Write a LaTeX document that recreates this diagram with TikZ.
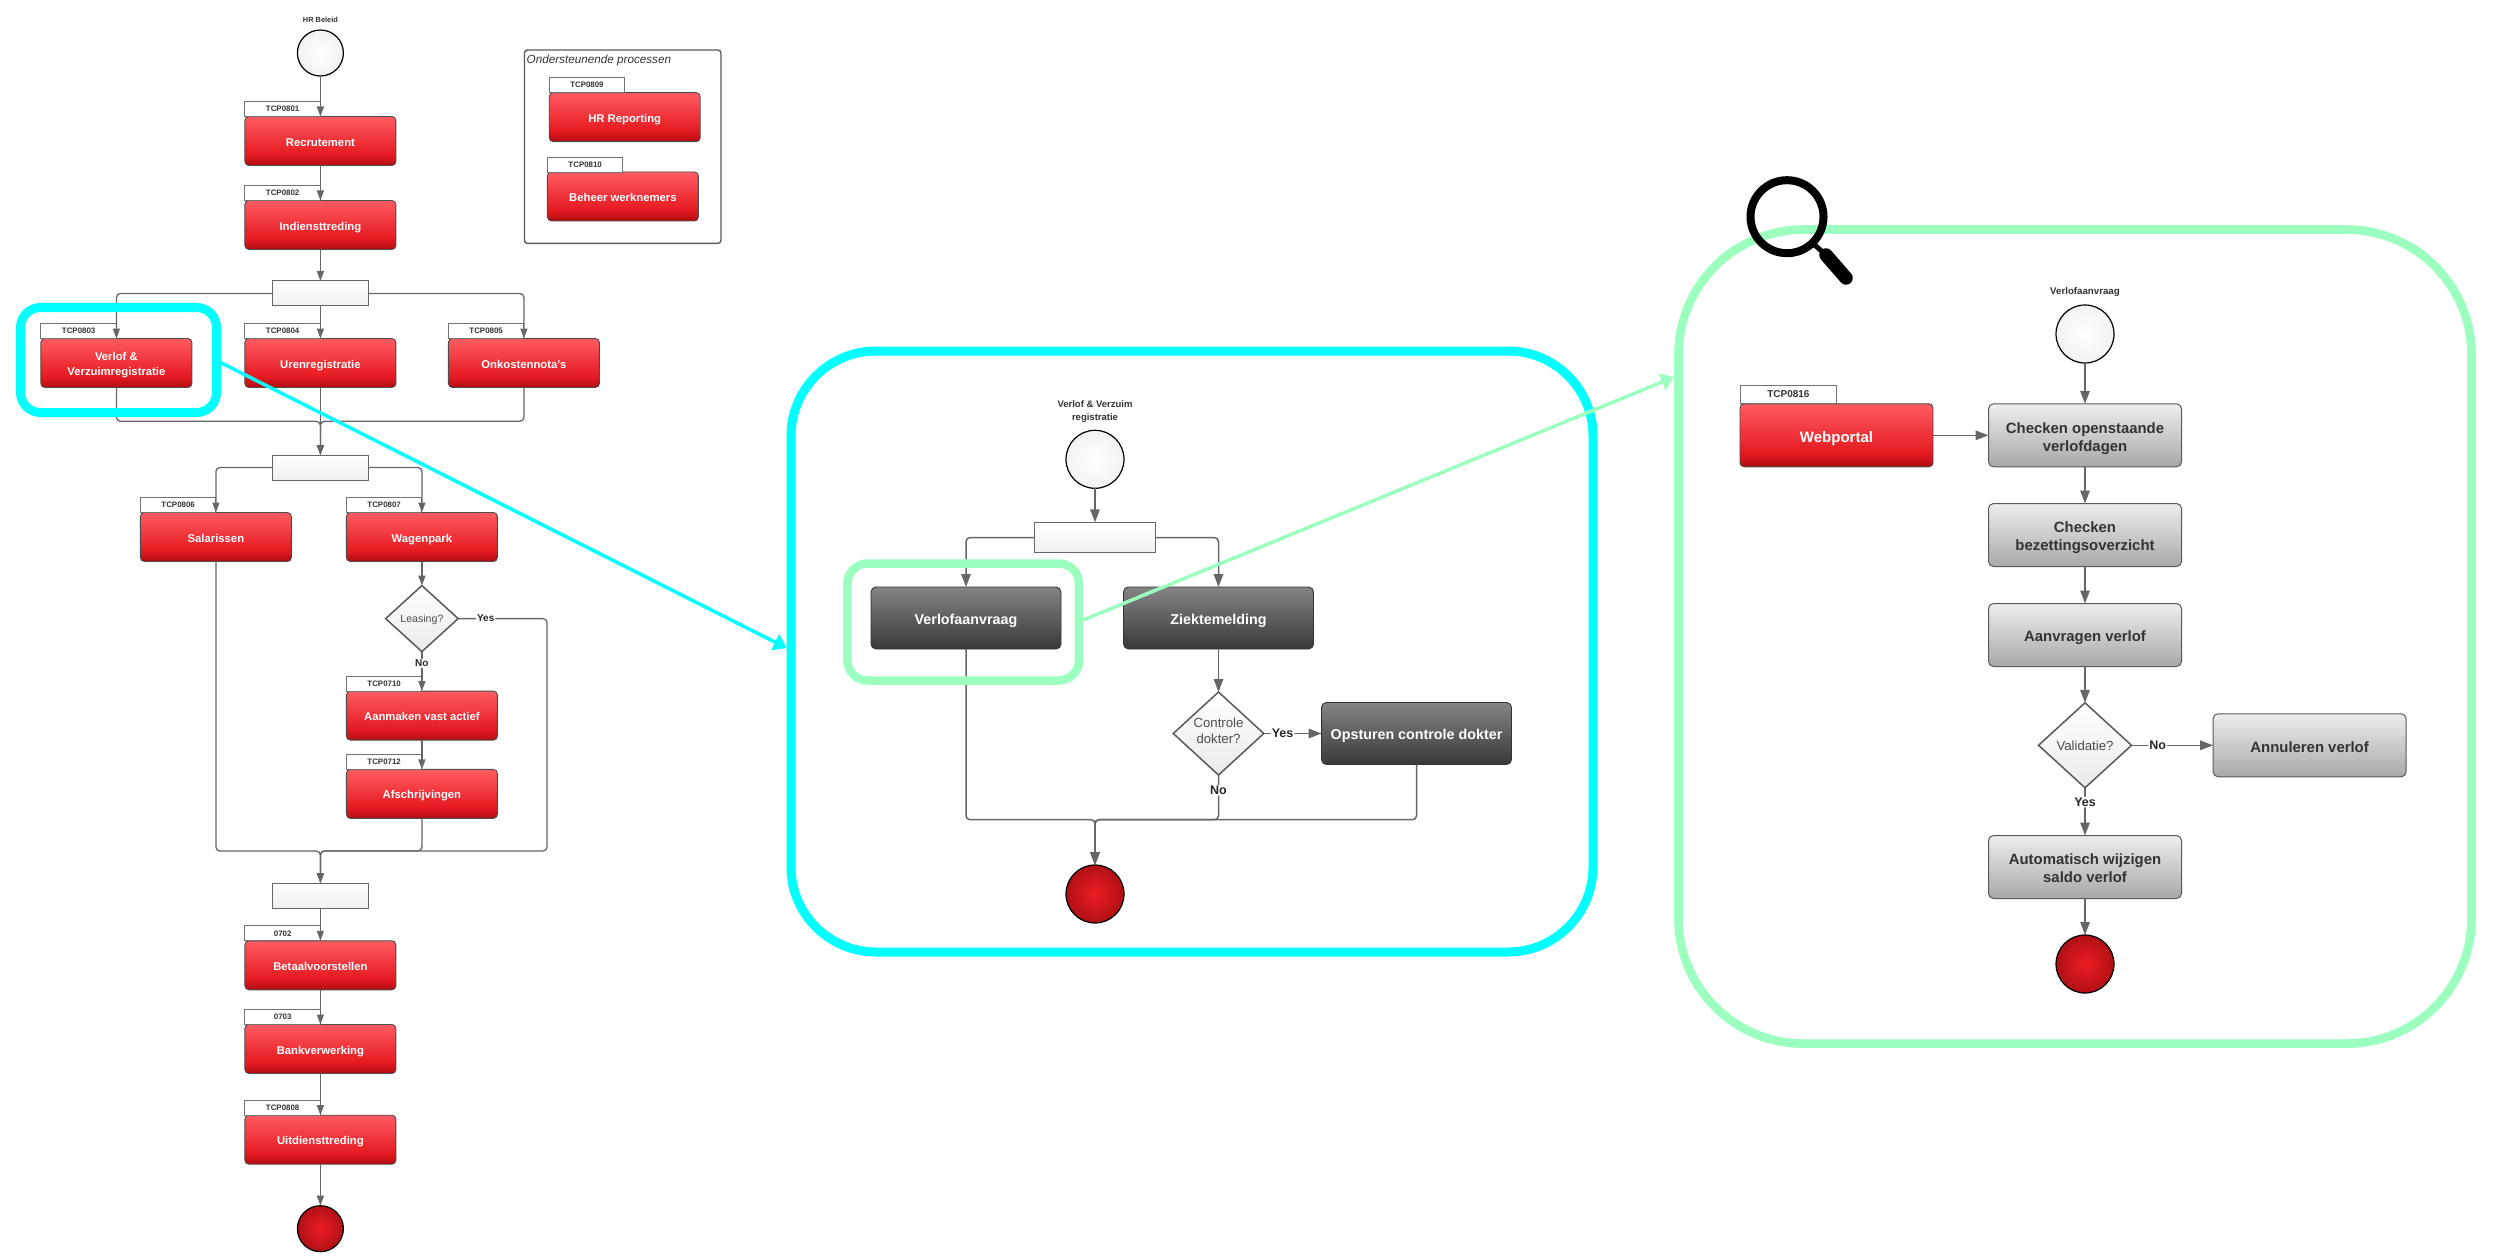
\documentclass[tikz,border=0pt]{standalone}
\usepackage{fontspec}
\setmainfont{Liberation Sans}
\usetikzlibrary{arrows.meta,shapes.geometric}
\definecolor{flowgray}{HTML}{666666}
\definecolor{framecyan}{HTML}{00FFFF}
\definecolor{framemint}{HTML}{9CFFC0}
\definecolor{endred}{HTML}{ED1C24}
\definecolor{endrim}{HTML}{B01015}
\newcommand{\firstline}{\rule{0pt}{1.15em}}
\pgfdeclareverticalshading{redfill}{100bp}{rgb(0bp)=(.69,.05,.07); rgb(25bp)=(.69,.05,.07); rgb(36bp)=(.90,.10,.13); rgb(75bp)=(1,.36,.38); rgb(100bp)=(1,.36,.38)}
\pgfdeclareverticalshading{darkfill}{100bp}{rgb(0bp)=(.22,.22,.22); rgb(25bp)=(.22,.22,.22); rgb(75bp)=(.52,.52,.52); rgb(100bp)=(.52,.52,.52)}
\pgfdeclareverticalshading{grayfill}{100bp}{rgb(0bp)=(.66,.66,.66); rgb(25bp)=(.66,.66,.66); rgb(75bp)=(.93,.93,.93); rgb(100bp)=(.93,.93,.93)}
\begin{document}
\begin{tikzpicture}[x=1pt, y=-1pt,
  boxtext/.style={execute at begin node={\rule[-.25em]{0pt}{1.4em}}},
  redbox/.style={boxtext, draw=black!70, line width=0.9pt, rounded corners=4pt, shade, shading=redfill, minimum width=151pt, minimum height=49pt, inner sep=0pt, outer sep=0pt, align=center, text=white, font=\bfseries\fontsize{11.3}{14.3}\selectfont},
  bigredbox/.style={redbox, minimum width=193pt, minimum height=63pt, font=\bfseries\fontsize{15}{18}\selectfont},
  darkbox/.style={boxtext, draw=black!80, line width=0.9pt, rounded corners=5pt, shade, shading=darkfill, minimum width=190pt, minimum height=62pt, inner sep=0pt, outer sep=0pt, text=white, font=\bfseries\fontsize{14.3}{17}\selectfont},
  graybox/.style={boxtext, draw=black!65, line width=1pt, rounded corners=5pt, shade, shading=grayfill, minimum width=193pt, minimum height=63pt, inner sep=0pt, outer sep=0pt, align=center, text=black!80, font=\bfseries\fontsize{14.9}{18}\selectfont},
  tabbox/.style={draw=black!55, line width=0.9pt, fill=white, minimum width=75.5pt, minimum height=15pt, inner sep=0pt, outer sep=0pt, anchor=south west, text=black!80, font=\bfseries\fontsize{7.9}{9}\selectfont},
  forkbar/.style={draw=black!60, line width=1pt, top color=white, bottom color=black!6, minimum width=96pt, minimum height=25pt, inner sep=0pt, outer sep=0pt},
  startdot/.style={circle, draw=black, line width=1.2pt, inner color=white, outer color=black!5, minimum size=46pt, inner sep=0pt, outer sep=0pt},
  enddot/.style={circle, draw=black, line width=1.2pt, inner color=endred, outer color=endrim, minimum size=46pt, inner sep=0pt, outer sep=0pt},
  choice/.style={diamond, draw=black!65, line width=1.5pt, top color=white, bottom color=black!8, aspect=1.1, inner sep=0pt, outer sep=0pt, align=center, text=black!70},
  titletext/.style={align=center, text=black!80, font=\bfseries\fontsize{7.4}{9}\selectfont},
  flowlabel/.style={fill=white, inner sep=1pt, text=black!85, font=\bfseries\fontsize{10}{12}\selectfont},
  biglabel/.style={flowlabel, font=\bfseries\fontsize{12.5}{15}\selectfont},
  flow/.style={draw=flowgray, line width=1.3pt, rounded corners=4pt, -{Triangle[length=10pt,width=7pt]}},
  bigflow/.style={draw=flowgray, line width=1.5pt, rounded corners=4pt, -{Triangle[length=13pt,width=9.5pt]}},
  highlight/.style={rounded corners=20pt, line width=9pt, fill=none, inner sep=0pt},
  zoomline/.style={line width=3.5pt, -{Triangle[length=13pt,width=17.5pt]}}]
  \useasboundingbox (0,0) rectangle (2500,1257);

  \node[startdot] (hrstart) at (320.4,53) {};
  \node[titletext, above of=hrstart, node distance=33pt] (hrtitle) {HR Beleid};
  \node[redbox, below of=hrstart, node distance=88pt] (rec) {Recrutement};
  \node[tabbox] (rectab) at (rec.north west) {TCP0801};
  \node[redbox, below of=rec, node distance=84pt] (ind) {Indiensttreding};
  \node[tabbox] (indtab) at (ind.north west) {TCP0802};
  \node[forkbar, below of=ind, node distance=68.5pt] (barone) {};
  \node[redbox, below of=barone, node distance=69.5pt] (uren) {Urenregistratie};
  \node[tabbox] (urentab) at (uren.north west) {TCP0804};
  \node[redbox, left of=uren, node distance=204pt] (verlof) {\firstline Verlof \&\\Verzuimregistratie};
  \node[tabbox] (verloftab) at (verlof.north west) {TCP0803};
  \node[redbox, right of=uren, node distance=203.5pt] (onko) {Onkostennota's};
  \node[tabbox] (onkotab) at (onko.north west) {TCP0805};
  \node[forkbar, below of=uren, node distance=104.5pt] (bartwo) {};
  \node[redbox, below of=bartwo, node distance=69.5pt, xshift=-104.5pt] (sal) {Salarissen};
  \node[tabbox] (saltab) at (sal.north west) {TCP0806};
  \node[redbox, below of=bartwo, node distance=69.5pt, xshift=101.5pt] (wagen) {Wagenpark};
  \node[tabbox] (wagentab) at (wagen.north west) {TCP0807};
  \node[choice, below of=wagen, node distance=81.6pt, minimum width=72.5pt, minimum height=66pt, text depth=0pt, font=\fontsize{10.6}{12}\selectfont] (leasing) {Leasing?};
  \node[redbox, below of=leasing, node distance=97pt] (aanmaken) {Aanmaken vast actief};
  \node[tabbox] (aanmakentab) at (aanmaken.north west) {TCP0710};
  \node[redbox, below of=aanmaken, node distance=78.3pt] (afschr) {Afschrijvingen};
  \node[tabbox] (afschrtab) at (afschr.north west) {TCP0712};
  \node[forkbar, below of=bartwo, node distance=428pt] (barthree) {};
  \node[redbox, below of=barthree, node distance=69.8pt] (betaal) {Betaalvoorstellen};
  \node[tabbox] (betaaltab) at (betaal.north west) {0702};
  \node[redbox, below of=betaal, node distance=83.7pt] (bank) {Bankverwerking};
  \node[tabbox] (banktab) at (bank.north west) {0703};
  \node[redbox, below of=bank, node distance=90.7pt] (uit) {Uitdiensttreding};
  \node[tabbox] (uittab) at (uit.north west) {TCP0808};
  \node[enddot, below of=uit, node distance=89pt] (hrend) {};
  \coordinate (joinone) at (320.4,421.3);
  \coordinate (jointwo) at (320.4,851);
  \coordinate (yescorner) at (547,851);

  \draw[flow] (hrstart) -- (rec);
  \draw[flow] (rec) -- (ind);
  \draw[flow] (ind) -- (barone);
  \draw[flow] (barone.west) -| (verlof.north);
  \draw[flow] (barone) -- (uren);
  \draw[flow] (barone.east) -| (onko.north);
  \draw[flow] (verlof.south) |- (joinone) -- (bartwo.north);
  \draw[flow] (uren) -- (bartwo);
  \draw[flow] (onko.south) |- (joinone) -- (bartwo.north);
  \draw[flow] (bartwo.west) -| (sal.north);
  \draw[flow] (bartwo.east) -| (wagen.north);
  \draw[flow] (wagen) -- (leasing);
  \draw[flow] (leasing) -- node[flowlabel, pos=0.3] (nolease) {No} (aanmaken);
  \draw[flow] (aanmaken) -- (afschr);
  \draw[flow] (sal.south) |- (jointwo) -- (barthree.north);
  \draw[flow] (afschr.south) |- (jointwo) -- (barthree.north);
  \draw[flow] (leasing.east) -| node[flowlabel, pos=0.155] (yeslease) {Yes} (yescorner) -- (jointwo) -- (barthree.north);
  \draw[flow] (barthree) -- (betaal);
  \draw[flow] (betaal) -- (bank);
  \draw[flow] (bank) -- (uit);
  \draw[flow] (uit) -- (hrend);

  \node[draw=black!65, line width=1.4pt, rounded corners=3pt, minimum width=196.5pt, minimum height=193.3pt] (support) at (622.7,146.7) {};
  \node[anchor=west, inner sep=0pt, text=black!80, font=\itshape\fontsize{11.7}{14}\selectfont] (supporttitle) at (526.5,60) {Ondersteunende processen};
  \node[redbox] (hrrep) at (624.7,117.2) {HR Reporting};
  \node[tabbox] (hrreptab) at (hrrep.north west) {TCP0809};
  \node[redbox, below of=hrrep, node distance=79.3pt, xshift=-1.8pt] (beheer) {Beheer werknemers};
  \node[tabbox] (beheertab) at (beheer.north west) {TCP0810};

  \node[highlight, draw=framecyan, minimum width=196pt, minimum height=105pt] (verlofframe) at (118.5,360) {};
  \node[highlight, draw=framecyan, rounded corners=85pt, minimum width=802pt, minimum height=601pt] (midpanel) at (1192,651.5) {};
  \coordinate (midentry) at (786.7,648);
  \draw[zoomline, draw=framecyan, fill=framecyan] ([yshift=-2.7pt]verlofframe.east) -- (midentry);

  \node[startdot, minimum size=58pt] (midstart) at (1095,459.3) {};
  \node[titletext, above of=midstart, node distance=47.5pt, font=\bfseries\fontsize{9.5}{12.5}\selectfont] (midtitle) {Verlof \& Verzuim\\registratie};
  \node[forkbar, below of=midstart, node distance=78.3pt, minimum width=121.5pt, minimum height=30.5pt] (midbar) {};
  \node[darkbox, below of=midbar, node distance=80.4pt, xshift=-129pt] (aanvraag) {Verlofaanvraag};
  \node[darkbox, below of=midbar, node distance=80.4pt, xshift=123.5pt] (ziekte) {Ziektemelding};
  \node[choice, below of=ziekte, node distance=115.5pt, minimum width=90.5pt, minimum height=83pt, font=\fontsize{13.2}{16}\selectfont] (controle) {Controle\\dokter?\rule[-.45em]{0pt}{0pt}};
  \node[darkbox, right of=controle, node distance=198pt] (opsturen) {Opsturen controle dokter};
  \node[enddot, below of=midbar, node distance=356.4pt, minimum size=58pt] (midend) {};
  \coordinate (midjoin) at (1095,819.7);

  \draw[bigflow] (midstart) -- (midbar);
  \draw[bigflow] (midbar.west) -| (aanvraag.north);
  \draw[bigflow] (midbar.east) -| (ziekte.north);
  \draw[bigflow] (ziekte) -- (controle);
  \draw[bigflow] (controle) -- node[biglabel, pos=0.326] (yesdokter) {Yes} (opsturen);
  \draw[bigflow] (aanvraag.south) |- (midjoin) -- (midend.north);
  \draw[bigflow] (controle.south) |- node[biglabel, pos=0.172] (nodokter) {No} (midjoin) -- (midend.north);
  \draw[bigflow] (opsturen.south) |- (midjoin) -- (midend.north);

  \node[highlight, draw=framemint, line width=8.5pt, minimum width=231.5pt, minimum height=117pt] (aanvraagframe) at (963.2,622) {};
  \node[highlight, draw=framemint, line width=8.7pt, rounded corners=125pt, minimum width=793pt, minimum height=814pt] (rightpanel) at (2075,636.6) {};
  \coordinate (rightentry) at (1674,377);
  \draw[zoomline, draw=framemint, fill=framemint] ([yshift=2pt]aanvraagframe.east) -- (rightentry);

  \node[circle, draw=black, line width=8pt, minimum size=73pt, inner sep=0pt, outer sep=0pt] (lens) at (1787,216.7) {};
  \coordinate (handletop) at (1826,255);
  \coordinate (handleend) at (1846,278);
  \draw[draw=black, line width=5pt] (lens.-46) -- (handletop);
  \draw[draw=black, line width=13.5pt, line cap=round] (handletop) -- (handleend);

  \node[startdot, minimum size=58pt] (rightstart) at (2085,334) {};
  \node[titletext, above of=rightstart, node distance=41.7pt, font=\bfseries\fontsize{9.7}{12}\selectfont] (righttitle) {Verlofaanvraag};
  \node[graybox, below of=rightstart, node distance=101.3pt] (openstaand) {\firstline Checken openstaande\\verlofdagen};
  \node[graybox, below of=openstaand, node distance=99.7pt] (bezetting) {\firstline Checken\\bezettingsoverzicht};
  \node[graybox, below of=bezetting, node distance=100pt] (aanvragen) {Aanvragen verlof};
  \node[choice, below of=aanvragen, node distance=110.3pt, aspect=1.09, minimum width=93pt, minimum height=85pt, font=\fontsize{13.2}{16}\selectfont] (validatie) {Validatie?};
  \node[graybox, right of=validatie, node distance=224.6pt] (annuleren) {Annuleren verlof};
  \node[graybox, below of=validatie, node distance=121.7pt] (wijzigen) {\firstline Automatisch wijzigen\\saldo verlof};
  \node[enddot, below of=wijzigen, node distance=97pt, minimum size=58pt] (rightend) {};
  \node[bigredbox, left of=openstaand, node distance=248.5pt] (webportal) {Webportal};
  \node[tabbox, minimum width=96.8pt, minimum height=18.7pt, font=\bfseries\fontsize{10}{12}\selectfont] (webportaltab) at (webportal.north west) {TCP0816};

  \draw[bigflow] (rightstart) -- (openstaand);
  \draw[bigflow] (webportal) -- (openstaand);
  \draw[bigflow] (openstaand) -- (bezetting);
  \draw[bigflow] (bezetting) -- (aanvragen);
  \draw[bigflow] (aanvragen) -- (validatie);
  \draw[bigflow] (validatie) -- node[biglabel, pos=0.32] (novalid) {No} (annuleren);
  \draw[bigflow] (validatie) -- node[biglabel, pos=0.3] (yesvalid) {Yes} (wijzigen);
  \draw[bigflow] (wijzigen) -- (rightend);
\end{tikzpicture}
\end{document}
